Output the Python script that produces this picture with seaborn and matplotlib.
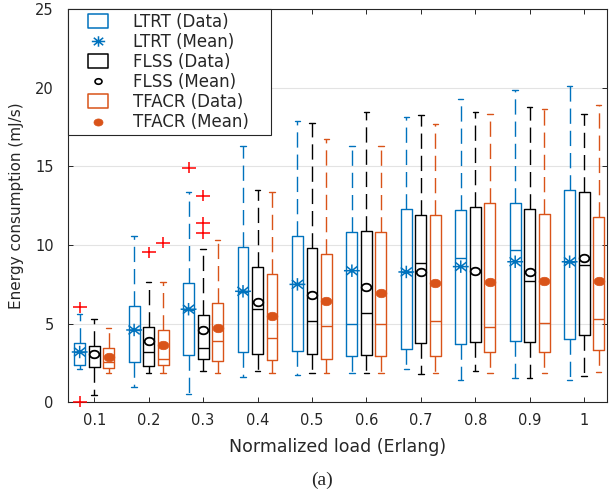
import numpy as np
import pandas as pd
import matplotlib
matplotlib.use("Agg")
import matplotlib.pyplot as plt
from matplotlib.path import Path
from matplotlib.lines import Line2D
import seaborn as sns

# ---------------------------------------------------------------- data
loads = ["0.1", "0.2", "0.3", "0.4", "0.5", "0.6", "0.7", "0.8", "0.9", "1"]
methods = ["LTRT", "FLSS", "TFACR"]

# five-number summaries: lower whisker, Q1, median, Q3, upper whisker (mJ/s)
ltrt_low = [2.10, 0.95, 0.53, 1.59, 1.74, 1.88, 2.14, 1.44, 1.53, 1.40]
ltrt_q1 = [2.35, 2.58, 3.01, 3.18, 3.24, 2.93, 3.37, 3.73, 3.90, 4.01]
ltrt_med = [3.20, 4.60, 5.90, 7.00, 7.50, 4.98, 8.30, 9.18, 9.69, 8.95]
ltrt_q3 = [3.79, 6.15, 7.57, 9.86, 10.58, 10.83, 12.28, 12.23, 12.70, 13.50]
ltrt_high = [5.60, 10.58, 13.38, 16.30, 17.90, 16.30, 18.15, 19.27, 19.85, 20.12]
ltrt_mean = [3.20, 4.60, 5.92, 7.06, 7.50, 8.37, 8.29, 8.63, 8.94, 8.94]

flss_low = [0.46, 1.88, 1.99, 1.99, 1.86, 1.88, 1.80, 1.97, 1.55, 1.67]
flss_q1 = [2.25, 2.31, 2.74, 3.05, 3.07, 3.03, 3.75, 3.84, 3.82, 4.28]
flss_med = [3.00, 3.20, 3.45, 5.92, 5.15, 5.66, 8.84, 8.37, 7.74, 8.71]
flss_q3 = [3.60, 4.81, 5.57, 8.63, 9.84, 10.92, 11.90, 12.44, 12.28, 13.38]
flss_high = [5.30, 7.65, 9.73, 13.50, 17.77, 18.45, 18.30, 18.49, 18.77, 18.36]
flss_mean = [3.07, 3.92, 4.60, 6.38, 6.80, 7.33, 8.29, 8.37, 8.29, 9.16]

tfacr_low = [1.86, 1.88, 1.88, 1.88, 1.86, 1.88, 1.86, 1.86, 1.86, 1.93]
tfacr_q1 = [2.16, 2.37, 2.63, 2.69, 2.74, 2.93, 2.96, 3.20, 3.18, 3.33]
tfacr_med = [2.56, 2.73, 3.88, 4.09, 4.85, 4.98, 5.19, 4.81, 5.03, 5.28]
tfacr_q3 = [3.43, 4.58, 6.34, 8.16, 9.43, 10.83, 11.93, 12.70, 11.96, 11.77]
tfacr_high = [4.70, 7.65, 10.32, 13.36, 16.73, 16.30, 17.72, 18.34, 18.64, 18.89]
tfacr_mean = [2.86, 3.62, 4.70, 5.49, 6.44, 6.97, 7.57, 7.67, 7.74, 7.74]

# outliers beyond the whiskers: (method, load, value)
outlier_method = ["LTRT", "LTRT", "LTRT", "FLSS", "FLSS", "FLSS", "FLSS", "TFACR"]
outlier_load = ["0.1", "0.1", "0.3", "0.2", "0.3", "0.3", "0.3", "0.2"]
outlier_value = [6.04, 0.04, 14.92, 9.54, 13.14, 11.43, 10.75, 10.15]

colors = {"LTRT": "#0072BD", "FLSS": "#000000", "TFACR": "#D95319"}

summaries = {
    "LTRT": (ltrt_low, ltrt_q1, ltrt_med, ltrt_q3, ltrt_high),
    "FLSS": (flss_low, flss_q1, flss_med, flss_q3, flss_high),
    "TFACR": (tfacr_low, tfacr_q1, tfacr_med, tfacr_q3, tfacr_high),
}

# long table; with whis=(0, 100) the five summary values reproduce each box exactly
rows = []
for m, parts in summaries.items():
    for i, load in enumerate(loads):
        for v in (p[i] for p in parts):
            rows.append((load, m, v))
df = pd.DataFrame(rows, columns=["load", "method", "value"])

# ---------------------------------------------------------------- markers
SX = 1.27  # width / height ratio of the marker glyphs


def ellipse_path(n=60):
    t = np.linspace(0, 2 * np.pi, n)
    return Path(np.column_stack([np.cos(t), np.sin(t) / SX]), closed=True)


def spokes_path(angles):
    verts, codes = [], []
    for a in np.deg2rad(angles):
        dx, dy = np.cos(a), np.sin(a) / SX
        verts += [(-dx, -dy), (dx, dy)]
        codes += [Path.MOVETO, Path.LINETO]
    return Path(verts, codes)


def rect_path():
    h = 1 / SX
    return Path([(-1, -h), (1, -h), (1, h), (-1, h), (-1, -h)], closed=True)


CIRCLE = ellipse_path()
STAR = spokes_path([0, 45, 90, 135])
PLUS = spokes_path([0, 90])
SQUARE = rect_path()

# ---------------------------------------------------------------- style
sns.set_theme(style="ticks", rc={
    "xtick.direction": "in", "ytick.direction": "in",
    "xtick.top": True, "ytick.right": True,
    "xtick.major.size": 3.6, "ytick.major.size": 3.6,
    "xtick.major.width": 0.7, "ytick.major.width": 0.7,
    "axes.edgecolor": "#262626", "axes.linewidth": 0.8,
    "xtick.color": "#262626", "ytick.color": "#262626",
})
plt.rcParams["font.family"] = ["DejaVu Sans"]

fig = plt.figure(figsize=(6.1, 4.91), dpi=100)
ax = fig.add_axes([0.1107, 0.1807, 0.8844, 0.8004])
ax.set_axisbelow(True)
ax.yaxis.grid(True, color="#e3e3e3", linewidth=0.8)

sns.boxplot(
    data=df, x="load", y="value", hue="method",
    order=loads, hue_order=methods, palette=colors, saturation=1,
    fill=False, width=0.8, gap=0.25, whis=(0, 100), linewidth=1.0,
    showfliers=False, legend=False, ax=ax,
    whiskerprops=dict(linestyle=(0, (11, 5))),
)

slot = 0.8 / len(methods)
xpos = np.arange(len(loads))
offsets = {m: (j - (len(methods) - 1) / 2) * slot for j, m in enumerate(methods)}

# means
sns.scatterplot(x=xpos + offsets["LTRT"], y=ltrt_mean, marker=STAR, s=130,
                facecolor="none", edgecolor=colors["LTRT"], linewidth=1.1,
                ax=ax, zorder=5)
sns.scatterplot(x=xpos + offsets["FLSS"], y=flss_mean, marker=CIRCLE, s=48,
                facecolor="white", edgecolor=colors["FLSS"], linewidth=1.3,
                ax=ax, zorder=5)
sns.scatterplot(x=xpos + offsets["TFACR"], y=tfacr_mean, marker=CIRCLE, s=60,
                facecolor=colors["TFACR"], edgecolor=colors["TFACR"], linewidth=0.5,
                ax=ax, zorder=5)

# outliers
ox = [loads.index(l) + offsets[m] for m, l in zip(outlier_method, outlier_load)]
sns.scatterplot(x=ox, y=outlier_value, marker=PLUS, s=100, facecolor="none",
                edgecolor="#ff0000", linewidth=1.1, ax=ax, zorder=6, clip_on=False)

ax.set_xlim(-0.49, 9.42)
ax.set_ylim(0, 25)
ax.set_yticks([0, 5, 10, 15, 20, 25])
ax.set_xticks(xpos)
ax.set_xticklabels(loads)
ax.tick_params(axis="x", labelsize=10.5, pad=8)
ax.tick_params(axis="y", labelsize=10.5, pad=10)
for s in ax.spines.values():
    s.set_visible(True)

ax.set_xlabel("Normalized load (Erlang)", fontsize=12.5, color="#262626")
ax.set_ylabel("Energy consumption (mJ/s)", fontsize=11, color="#262626")
ax.xaxis.set_label_coords(0.5, -0.092)
ax.yaxis.set_label_coords(-0.08, 0.5)

# legend
handles = [
    Line2D([], [], ls="none", marker=SQUARE, ms=13.7, mfc="none", mec=colors["LTRT"], mew=1.1),
    Line2D([], [], ls="none", marker=STAR, ms=9.6, mfc="none", mec=colors["LTRT"], mew=1.1),
    Line2D([], [], ls="none", marker=SQUARE, ms=13.7, mfc="none", mec=colors["FLSS"], mew=1.1),
    Line2D([], [], ls="none", marker=CIRCLE, ms=5.0, mfc="none", mec=colors["FLSS"], mew=1.2),
    Line2D([], [], ls="none", marker=SQUARE, ms=13.7, mfc="none", mec=colors["TFACR"], mew=1.1),
    Line2D([], [], ls="none", marker=CIRCLE, ms=6.5, mfc=colors["TFACR"], mec=colors["TFACR"], mew=0.5),
]
labels = ["LTRT (Data)", "LTRT (Mean)", "FLSS (Data)", "FLSS (Mean)",
          "TFACR (Data)", "TFACR (Mean)"]
leg = ax.legend(handles, labels, loc="upper left", bbox_to_anchor=(0, 0.663, 0.377, 0.337),
                mode="expand", borderaxespad=0, fontsize=12, borderpad=0.2,
                handlelength=3.26, handletextpad=0.47, labelspacing=0.13,
                numpoints=1, fancybox=False, framealpha=1, edgecolor="#262626")
leg.get_frame().set_linewidth(0.8)

fig.text(322 / 610, 1 - 480 / 491, "(a)", ha="center", va="center",
         family="Liberation Serif", fontsize=14)

fig.savefig("out.png", dpi=100)
